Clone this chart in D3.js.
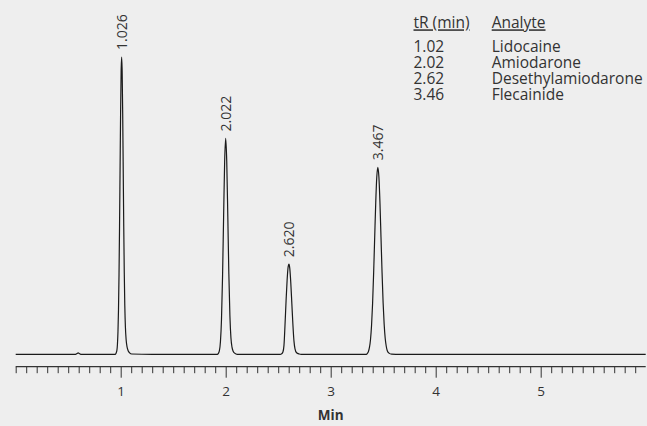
<!DOCTYPE html>
<html>
<head>
<meta charset="utf-8">
<script src="https://cdn.jsdelivr.net/npm/d3@7/dist/d3.min.js"></script>
<style>
  html, body { margin: 0; padding: 0; background: #eeeeee; }
  svg { display: block; }
  text { font-family: "Open Sans", "Noto Sans", sans-serif; fill: #333; }
</style>
</head>
<body>
<svg id="chart" width="647" height="426"></svg>
<script>
// ---- data ----
const timeDomain = [0, 6];
const majorTicks = [1, 2, 3, 4, 5];
const xAxisTitle = "Min";

// chromatogram trace: [time (min), signal (relative)]
const baselineStart = [[0.0, 0], [0.57, 0]];
const bumpPoints = [[0.585, 0.25], [0.595, 0.45], [0.605, 0.25], [0.62, 0], [0.95, 0]];
const peak1Points = [[0.955, 0.3], [0.964, 1.4], [0.969, 3.4], [0.974, 7.6], [0.979, 15], [0.984, 26.8],
  [0.989, 43], [0.994, 62], [0.999, 81], [1.004, 94.9], [1.009, 100], [1.014, 94.9], [1.019, 81],
  [1.024, 62], [1.029, 43], [1.034, 27.5], [1.039, 16.5], [1.045, 9], [1.052, 4.8], [1.060, 2.6],
  [1.070, 1.3], [1.085, 0.5], [1.105, 0.1], [1.3, 0], [1.92, 0]];
const peak2Points = [[1.930, 0.3], [1.940, 1.2], [1.950, 4.3], [1.960, 11.8], [1.970, 26.2], [1.980, 46.1],
  [1.990, 64.8], [2.000, 72.6], [2.010, 64.8], [2.020, 46.5], [2.030, 27], [2.040, 13], [2.050, 5.5],
  [2.060, 2.4], [2.070, 1.1], [2.085, 0.4], [2.11, 0], [2.52, 0]];
const peak3Points = [[2.530, 0.1], [2.545, 0.8], [2.555, 3], [2.565, 10], [2.575, 18], [2.585, 25],
  [2.595, 29.5], [2.602, 30.3], [2.610, 29], [2.620, 24], [2.630, 17], [2.640, 10], [2.650, 4.5],
  [2.660, 1.8], [2.675, 0.5], [2.70, 0.1], [2.72, 0], [3.34, 0]];
const peak4Points = [[3.349, 0.3], [3.359, 0.9], [3.369, 2.3], [3.379, 4.9], [3.389, 9.7], [3.399, 17.1],
  [3.409, 27.4], [3.419, 39.4], [3.429, 51.1], [3.439, 59.7], [3.449, 62.9], [3.459, 59.7], [3.469, 51.1],
  [3.479, 39.4], [3.489, 27.6], [3.499, 17.5], [3.509, 10.2], [3.519, 5.4], [3.529, 2.7], [3.539, 1.2],
  [3.555, 0.4], [3.58, 0.05], [3.62, 0], [6.0, 0]];

// peak annotations: apex time, apex signal, label
const peakTimes = [1.009, 2.000, 2.602, 3.449];
const peakHeights = [100, 72.6, 30.3, 62.9];
const peakLabels = ["1.026", "2.022", "2.620", "3.467"];

// legend table
const legendHeaders = ["tR (min)", "Analyte"];
const legendTimes = ["1.02", "2.02", "2.62", "3.46"];
const legendAnalytes = ["Lidocaine", "Amiodarone", "Desethylamiodarone", "Flecainide"];

// ---- drawing ----
const svg = d3.select("#chart");
const x = d3.scaleLinear().domain(timeDomain).range([15.7, 645.7]);
const y = d3.scaleLinear().domain([0, 100]).range([354.3, 57]);

const trace = [].concat(baselineStart, bumpPoints, peak1Points, peak2Points, peak3Points, peak4Points);

const line = d3.line()
  .x(d => x(d[0]))
  .y(d => y(d[1]))
  .curve(d3.curveMonotoneX);

svg.append("path")
  .datum(trace)
  .attr("d", line)
  .attr("fill", "none")
  .attr("stroke", "#1a1a1a")
  .attr("stroke-width", 1.2)
  .attr("stroke-linejoin", "round");

// x axis
const axisY = 366.7;
const minorTicks = d3.range(0, 60).map(i => i / 10).filter(t => majorTicks.indexOf(Math.round(t * 10) / 10) < 0);

const axisG = svg.append("g").attr("transform", `translate(0,${axisY})`);
axisG.call(d3.axisBottom(x).tickValues(minorTicks).tickSize(6.5).tickFormat("").tickSizeOuter(0))
  .call(g => g.select(".domain").remove());
axisG.append("g").call(d3.axisBottom(x).tickValues(majorTicks).tickSize(11).tickPadding(9).tickFormat(d3.format("d")).tickSizeOuter(0))
  .call(g => g.select(".domain").remove());
axisG.selectAll("line").attr("stroke", "#333").attr("stroke-width", 1);
axisG.selectAll("text").attr("font-size", 13.5).attr("fill", "#333")
  .style("font-family", '"Open Sans", "Noto Sans", sans-serif');
axisG.append("line")
  .attr("x1", x(timeDomain[0])).attr("x2", x(timeDomain[1]))
  .attr("y1", 0).attr("y2", 0)
  .attr("stroke", "#333").attr("stroke-width", 1.2);

svg.append("text")
  .attr("x", x(3)).attr("y", 420)
  .attr("text-anchor", "middle")
  .attr("font-size", 13.5)
  .attr("font-weight", "bold")
  .text(xAxisTitle);

// peak labels
svg.selectAll(".peaklabel")
  .data(peakTimes)
  .enter().append("text")
  .attr("class", "peaklabel")
  .attr("transform", (d, i) => `translate(${x(d)},${y(peakHeights[i]) - 7}) rotate(-90)`)
  .attr("text-anchor", "start")
  .attr("dominant-baseline", "central")
  .attr("font-size", 14)
  .text((d, i) => peakLabels[i]);

// legend
const col1 = 413.5, col2 = 491.7;
const headerY = 28.3, rowY0 = 51.7, rowStep = 16;
const legendFont = 15.5;
svg.selectAll(".lh")
  .data(legendHeaders)
  .enter().append("text")
  .attr("class", "lh")
  .attr("x", (d, i) => i === 0 ? col1 : col2)
  .attr("y", headerY)
  .attr("font-size", legendFont)
  .style("text-decoration", "underline")
  .text(d => d);
svg.selectAll(".lt")
  .data(legendTimes)
  .enter().append("text")
  .attr("class", "lt")
  .attr("x", col1)
  .attr("y", (d, i) => rowY0 + i * rowStep)
  .attr("font-size", legendFont)
  .text(d => d);
svg.selectAll(".la")
  .data(legendAnalytes)
  .enter().append("text")
  .attr("class", "la")
  .attr("x", col2)
  .attr("y", (d, i) => rowY0 + i * rowStep)
  .attr("font-size", legendFont)
  .text(d => d);
</script>
</body>
</html>
